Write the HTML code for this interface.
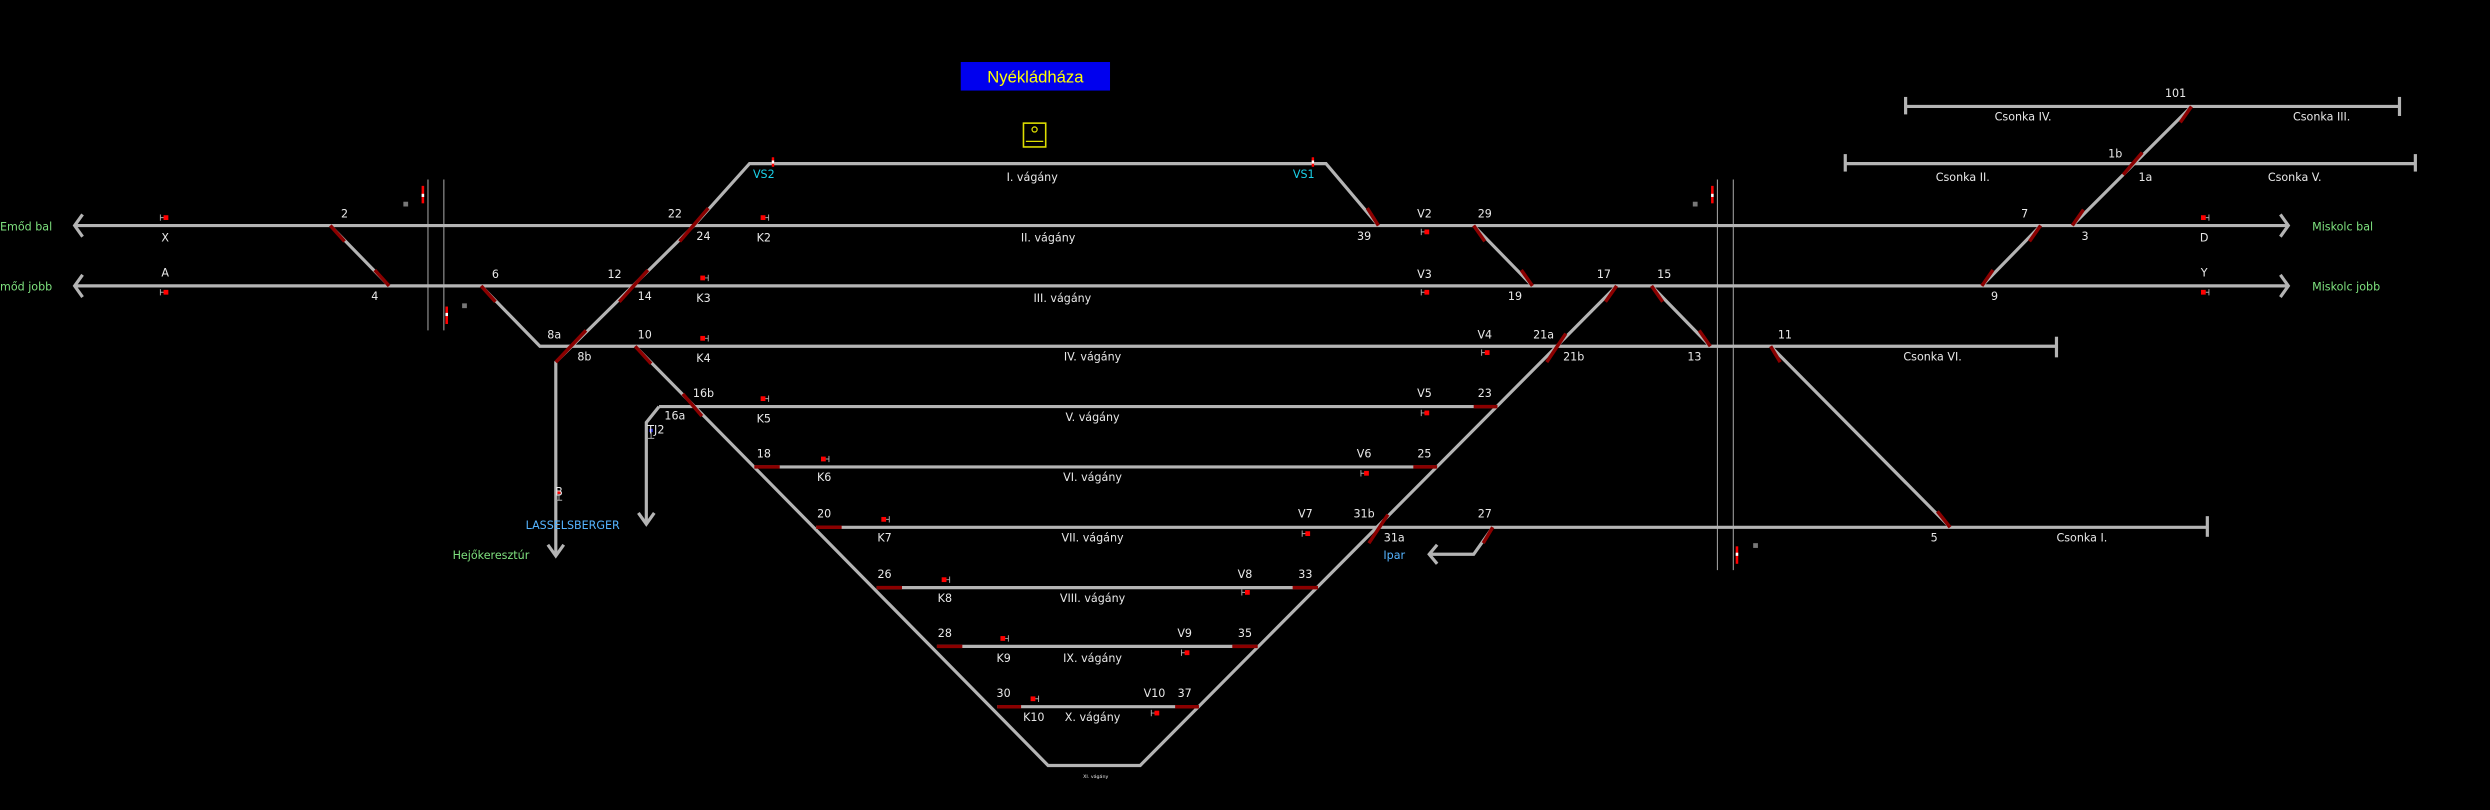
<!DOCTYPE html>
<html><head><meta charset="utf-8"><style>
html,body{margin:0;padding:0;background:#000;}
svg{display:block}
text{font-family:"DejaVu Sans","Liberation Sans",sans-serif;font-size:7px;fill:#e8e8e8;text-anchor:middle}
.g{stroke:#b4b4b4;stroke-width:2;fill:none}
.r{stroke:#8b0000;stroke-width:2.2;fill:none}
.t{font-size:7px}
.grn{fill:#7ee07e}
.blu{fill:#55b4ff}
.cy{fill:#1ad0e8}
</style></head><body>
<svg width="2490" height="810" viewBox="0 0 1568 510" xmlns="http://www.w3.org/2000/svg">
<rect width="1568" height="510" fill="#000"/>
<!-- title -->
<rect x="605" y="39" width="94" height="18" fill="#0000ee"/>
<text x="652" y="52" style="font-size:10.5px;fill:#ffff00;font-family:'Liberation Sans',sans-serif">Nyékládháza</text>
<rect x="644.5" y="77.5" width="14" height="15" fill="none" stroke="#dddd00" stroke-width="1"/>
<circle cx="651.5" cy="81.5" r="1.6" fill="none" stroke="#dddd00" stroke-width="0.8"/>
<line x1="646" y1="89" x2="657" y2="89" stroke="#dddd00" stroke-width="0.8"/>

<!-- boundary lines -->
<g stroke="#999" stroke-width="0.7">
<line x1="269.5" y1="113" x2="269.5" y2="208"/><line x1="279.5" y1="113" x2="279.5" y2="208"/>
<line x1="1081.5" y1="113" x2="1081.5" y2="359"/><line x1="1091.5" y1="113" x2="1091.5" y2="359"/>
</g>
<g>
<rect x="265.5" y="117" width="1.6" height="11" fill="#f00"/><rect x="265.5" y="122" width="1.6" height="2" fill="#fff"/>
<rect x="254" y="127" width="3" height="3" fill="#777"/>
<rect x="280.5" y="193" width="1.6" height="11" fill="#f00"/><rect x="280.5" y="197" width="1.6" height="2" fill="#fff"/>
<rect x="291" y="191" width="3" height="3" fill="#777"/>
<rect x="1077.5" y="117" width="1.6" height="11" fill="#f00"/><rect x="1077.5" y="122" width="1.6" height="2" fill="#fff"/>
<rect x="1066" y="127" width="3" height="3" fill="#777"/>
<rect x="1093" y="344" width="1.6" height="11" fill="#f00"/><rect x="1093" y="348" width="1.6" height="2" fill="#fff"/>
<rect x="1104" y="342" width="3" height="3" fill="#777"/>
</g>

<!-- tracks -->
<g class="g">
<!-- II, III -->
<line x1="47" y1="142" x2="1441" y2="142"/>
<line x1="47" y1="180" x2="1441" y2="180"/>
<polyline points="52,135 47,142 52,149"/>
<polyline points="52,173 47,180 52,187"/>
<polyline points="1436,135 1441,142 1436,149"/>
<polyline points="1436,173 1441,180 1436,187"/>
<!-- I -->
<polyline points="437,142 472,103 835,103 868,142"/>
<!-- IV -->
<polyline points="303,180 340,218 1295,218"/>
<line x1="1295" y1="212" x2="1295" y2="225"/>
<!-- V..X -->
<line x1="415" y1="256" x2="943" y2="256"/>
<line x1="475" y1="294" x2="905" y2="294"/>
<line x1="514" y1="332" x2="1390" y2="332"/>
<line x1="1390" y1="325" x2="1390" y2="338"/>
<line x1="552" y1="370" x2="830" y2="370"/>
<line x1="590" y1="407" x2="792" y2="407"/>
<line x1="628" y1="445" x2="755" y2="445"/>
<!-- fans -->
<polyline points="400,218 660,482 718,482 1018,180"/>
<!-- left crossovers -->
<line x1="208" y1="142" x2="245" y2="180"/>
<polyline points="437,142 350,228 350,350"/>
<polyline points="345,343 350,350 355,343"/>
<polyline points="415,256 407,266 407,330"/>
<polyline points="402,323 407,330 412,323"/>
<!-- right -->
<line x1="928" y1="142" x2="965" y2="180"/>
<line x1="1040" y1="180" x2="1077" y2="218"/>
<line x1="1115" y1="218" x2="1228" y2="332"/>
<line x1="1285" y1="142" x2="1248" y2="180"/>
<line x1="1305" y1="142" x2="1380" y2="67"/>
<polyline points="940,332 928,349 900,349"/>
<polyline points="905,343 900,349 905,355"/>
<!-- csonka -->
<line x1="1200" y1="67" x2="1511" y2="67"/>
<line x1="1200" y1="61" x2="1200" y2="72"/><line x1="1511" y1="61" x2="1511" y2="73"/>
<line x1="1162" y1="103" x2="1521" y2="103"/>
<line x1="1162" y1="97" x2="1162" y2="108"/><line x1="1521" y1="97" x2="1521" y2="108"/>
</g>

<!-- red switch parts -->
<g class="r">
<line x1="208" y1="142" x2="217" y2="152"/><line x1="236" y1="170" x2="245" y2="180"/>
<line x1="303" y1="180" x2="312" y2="190"/>
<line x1="446" y1="131" x2="428" y2="152"/>
<line x1="408" y1="170" x2="390" y2="190"/>
<line x1="369" y1="208" x2="350" y2="228"/>
<line x1="400" y1="218" x2="410" y2="229"/>
<line x1="430" y1="248" x2="442" y2="262"/>
<line x1="475" y1="294" x2="491" y2="294"/>
<line x1="514" y1="332" x2="530" y2="332"/>
<line x1="552" y1="370" x2="568" y2="370"/>
<line x1="590" y1="407" x2="606" y2="407"/>
<line x1="628" y1="445" x2="643" y2="445"/>
<line x1="928" y1="256" x2="943" y2="256"/>
<line x1="890" y1="294" x2="905" y2="294"/>
<line x1="814" y1="370" x2="830" y2="370"/>
<line x1="776" y1="407" x2="792" y2="407"/>
<line x1="740" y1="445" x2="755" y2="445"/>
<line x1="1018" y1="180" x2="1011" y2="190"/>
<line x1="986" y1="210" x2="974" y2="228"/>
<line x1="874" y1="324" x2="862" y2="342"/>
<line x1="868" y1="142" x2="861" y2="131"/>
<line x1="928" y1="142" x2="935" y2="152"/><line x1="958" y1="170" x2="965" y2="180"/>
<line x1="1040" y1="180" x2="1047" y2="190"/><line x1="1070" y1="208" x2="1077" y2="218"/>
<line x1="1115" y1="218" x2="1121" y2="228"/><line x1="1220" y1="322" x2="1228" y2="332"/>
<line x1="940" y1="332" x2="934" y2="342"/>
<line x1="1285" y1="142" x2="1278" y2="152"/><line x1="1255" y1="170" x2="1248" y2="180"/>
<line x1="1305" y1="142" x2="1312" y2="132"/>
<line x1="1349" y1="96" x2="1337" y2="110"/>
<line x1="1380" y1="67" x2="1373" y2="77"/>
</g>

<!-- signals: gray H + red square -->
<g id="sigs" stroke="#aaa" stroke-width="0.6">
<!-- pointing left form: |-■ -->
</g>
<g fill="#f00">
<!-- X, A -->
<path d="M101,135v4M101,137h3" stroke="#aaa" stroke-width="0.6"/><rect x="103" y="135.5" width="3" height="3"/>
<path d="M101,182v4M101,184h3" stroke="#aaa" stroke-width="0.6"/><rect x="103" y="182.5" width="3" height="3"/>
<!-- K signals (red left, bar right) -->
<rect x="479" y="135.5" width="3" height="3"/><path d="M482,137h2M484,135v4" stroke="#aaa" stroke-width="0.6"/>
<rect x="441" y="173.5" width="3" height="3"/><path d="M444,175h2M446,173v4" stroke="#aaa" stroke-width="0.6"/>
<rect x="441" y="211.5" width="3" height="3"/><path d="M444,213h2M446,211v4" stroke="#aaa" stroke-width="0.6"/>
<rect x="479" y="249.5" width="3" height="3"/><path d="M482,251h2M484,249v4" stroke="#aaa" stroke-width="0.6"/>
<rect x="517" y="287.5" width="3" height="3"/><path d="M520,289h2M522,287v4" stroke="#aaa" stroke-width="0.6"/>
<rect x="555" y="325.5" width="3" height="3"/><path d="M558,327h2M560,325v4" stroke="#aaa" stroke-width="0.6"/>
<rect x="593" y="363.5" width="3" height="3"/><path d="M596,365h2M598,363v4" stroke="#aaa" stroke-width="0.6"/>
<rect x="630" y="400.5" width="3" height="3"/><path d="M633,402h2M635,400v4" stroke="#aaa" stroke-width="0.6"/>
<rect x="649" y="438.5" width="3" height="3"/><path d="M652,440h2M654,438v4" stroke="#aaa" stroke-width="0.6"/>
<!-- D / Y -->
<rect x="1386" y="135.5" width="3" height="3"/><path d="M1389,137h2M1391,135v4" stroke="#aaa" stroke-width="0.6"/>
<rect x="1386" y="182.5" width="3" height="3"/><path d="M1389,184h2M1391,182v4" stroke="#aaa" stroke-width="0.6"/>
<!-- V signals -->
<path d="M895,144v4M895,146h3" stroke="#aaa" stroke-width="0.6"/><rect x="897" y="144.5" width="3" height="3"/>
<path d="M895,182v4M895,184h3" stroke="#aaa" stroke-width="0.6"/><rect x="897" y="182.5" width="3" height="3"/>
<path d="M933,220v4M933,222h3" stroke="#aaa" stroke-width="0.6"/><rect x="935" y="220.5" width="3" height="3"/>
<path d="M895,258v4M895,260h3" stroke="#aaa" stroke-width="0.6"/><rect x="897" y="258.5" width="3" height="3"/>
<path d="M857,296v4M857,298h3" stroke="#aaa" stroke-width="0.6"/><rect x="859" y="296.5" width="3" height="3"/>
<path d="M820,334v4M820,336h3" stroke="#aaa" stroke-width="0.6"/><rect x="822" y="334.5" width="3" height="3"/>
<path d="M782,371v4M782,373h3" stroke="#aaa" stroke-width="0.6"/><rect x="784" y="371.5" width="3" height="3"/>
<path d="M744,409v4M744,411h3" stroke="#aaa" stroke-width="0.6"/><rect x="746" y="409.5" width="3" height="3"/>
<path d="M725,447v4M725,449h3" stroke="#aaa" stroke-width="0.6"/><rect x="727" y="447.5" width="3" height="3"/>
<!-- VS signals -->
<rect x="486" y="99" width="1.5" height="6"/><rect x="486" y="101" width="1.5" height="2" fill="#fff"/>
<rect x="826" y="99" width="1.5" height="6"/><rect x="826" y="101" width="1.5" height="2" fill="#fff"/>
<!-- B, TJ2 -->
<path d="M352,309v6M350,315h4" stroke="#aaa" stroke-width="0.6"/><rect x="351" y="309" width="2" height="2"/>
<path d="M410,270v6M408,276h4" stroke="#aaa" stroke-width="0.6"/><rect x="409" y="270" width="2" height="2" fill="#33f"/>
</g>

<!-- labels -->
<text class="grn" x="0" y="145" style="text-anchor:start">Emőd bal</text>
<text class="grn" x="0" y="183" style="text-anchor:start">mőd jobb</text>
<text class="grn" x="1456" y="145" style="text-anchor:start">Miskolc bal</text>
<text class="grn" x="1456" y="183" style="text-anchor:start">Miskolc jobb</text>
<text class="grn" x="285" y="352" style="text-anchor:start">Hejőkeresztúr</text>
<text class="blu" x="331" y="333" style="text-anchor:start">LASSELSBERGER</text>
<text class="blu" x="878" y="352">Ipar</text>
<text class="cy" x="481" y="112">VS2</text>
<text class="cy" x="821" y="112">VS1</text>

<text x="104" y="152">X</text><text x="104" y="174">A</text>
<text x="1388" y="152">D</text><text x="1388" y="174">Y</text>
<text x="481" y="152">K2</text><text x="443" y="190">K3</text><text x="443" y="228">K4</text>
<text x="481" y="266">K5</text><text x="519" y="303">K6</text><text x="557" y="341">K7</text>
<text x="595" y="379">K8</text><text x="632" y="417">K9</text><text x="651" y="454">K10</text>
<text x="897" y="137">V2</text><text x="897" y="175">V3</text><text x="935" y="213">V4</text>
<text x="897" y="250">V5</text><text x="859" y="288">V6</text><text x="822" y="326">V7</text>
<text x="784" y="364">V8</text><text x="746" y="401">V9</text><text x="727" y="439">V10</text>
<text x="352" y="312">B</text><text x="413" y="273">TJ2</text>

<g style="font-size:6.5px">
<text x="217" y="137">2</text><text x="236" y="189">4</text><text x="312" y="175">6</text>
<text x="387" y="175">12</text><text x="406" y="189">14</text><text x="425" y="137">22</text>
<text x="443" y="151">24</text><text x="349" y="213">8a</text><text x="368" y="227">8b</text>
<text x="406" y="213">10</text><text x="443" y="250">16b</text><text x="425" y="264">16a</text>
<text x="481" y="288">18</text><text x="519" y="326">20</text><text x="557" y="364">26</text>
<text x="595" y="401">28</text><text x="632" y="439">30</text>
<text x="859" y="151">39</text><text x="935" y="137">29</text><text x="954" y="189">19</text>
<text x="1010" y="175">17</text><text x="1048" y="175">15</text><text x="972" y="213">21a</text>
<text x="991" y="227">21b</text><text x="1067" y="227">13</text><text x="1124" y="213">11</text>
<text x="935" y="250">23</text><text x="897" y="288">25</text><text x="859" y="326">31b</text>
<text x="878" y="341">31a</text><text x="935" y="326">27</text><text x="822" y="364">33</text>
<text x="784" y="401">35</text><text x="746" y="439">37</text><text x="1218" y="341">5</text>
<text x="1275" y="137">7</text><text x="1313" y="151">3</text><text x="1256" y="189">9</text>
<text x="1332" y="99">1b</text><text x="1351" y="114">1a</text><text x="1370" y="61">101</text>
</g>

<text x="650" y="114">I. vágány</text>
<text x="660" y="152">II. vágány</text>
<text x="669" y="190">III. vágány</text>
<text x="688" y="227">IV. vágány</text>
<text x="688" y="265">V. vágány</text>
<text x="688" y="303">VI. vágány</text>
<text x="688" y="341">VII. vágány</text>
<text x="688" y="379">VIII. vágány</text>
<text x="688" y="417">IX. vágány</text>
<text x="688" y="454">X. vágány</text>
<text x="690" y="490" style="font-size:3px">XI. vágány</text>
<text x="1274" y="76">Csonka IV.</text>
<text x="1462" y="76">Csonka III.</text>
<text x="1236" y="114">Csonka II.</text>
<text x="1445" y="114">Csonka V.</text>
<text x="1217" y="227">Csonka VI.</text>
<text x="1311" y="341">Csonka I.</text>
</svg>
</body></html>
